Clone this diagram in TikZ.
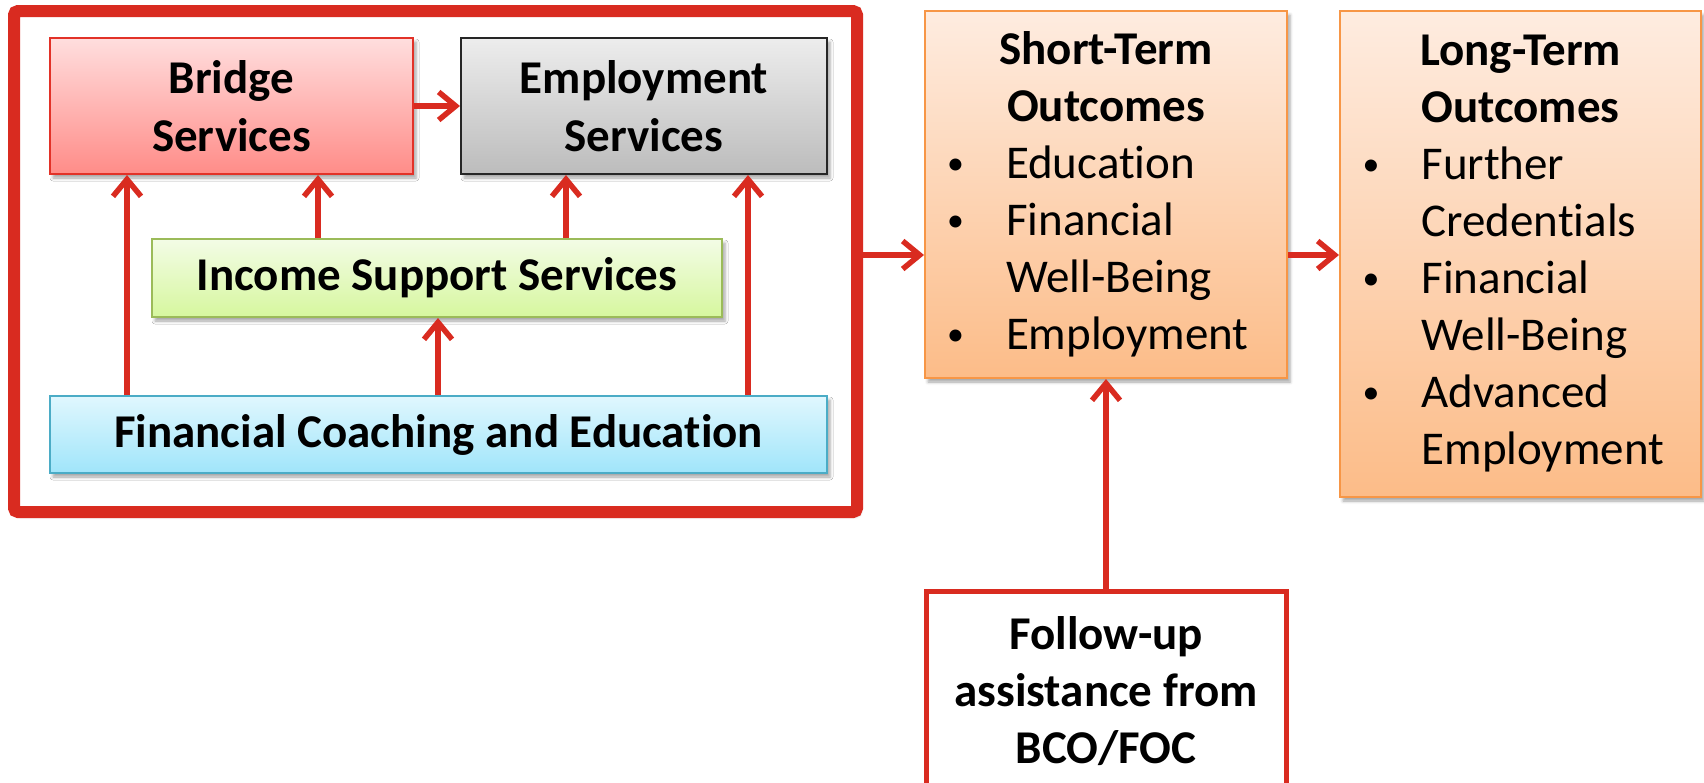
\documentclass[tikz,border=0pt]{standalone}
\usepackage{fontspec}
\usepackage{graphicx}
\setmainfont{Carlito}[Ligatures=NoCommon]
\usetikzlibrary{arrows.meta,shadows.blur}
\definecolor{fred}{RGB}{217,43,32}
\definecolor{brtop}{RGB}{255,222,222}
\definecolor{brbot}{RGB}{255,140,136}
\definecolor{brline}{RGB}{226,50,40}
\definecolor{emtop}{RGB}{237,237,237}
\definecolor{embot}{RGB}{188,188,188}
\definecolor{istop}{RGB}{243,252,230}
\definecolor{isbot}{RGB}{214,247,158}
\definecolor{isline}{RGB}{155,187,89}
\definecolor{fctop}{RGB}{224,247,254}
\definecolor{fcbot}{RGB}{160,229,250}
\definecolor{fcline}{RGB}{75,172,198}
\definecolor{ortop}{RGB}{254,236,224}
\definecolor{orbot}{RGB}{252,188,136}
\definecolor{orline}{RGB}{247,150,70}
\newcommand\outbul[1]{\makebox[56pt][l]{\hspace*{-3pt}\raisebox{4.5pt}{\scalebox{0.72}{\textbullet}}}#1\par}
\newcommand\outcont[1]{\hspace*{56pt}#1\par}
\begin{document}
\begin{tikzpicture}[x=1pt,y=-1pt,
  svc/.style={draw, line width=2pt, inner sep=0pt, align=center,
    font=\fontsize{47}{58}\selectfont\bfseries,
    blur shadow={shadow xshift=3pt, shadow yshift=-4pt, shadow opacity=35, shadow blur radius=3pt}},
  outbox/.style={draw=orline, line width=2pt, inner sep=0pt, align=left,
    top color=ortop, bottom color=orbot,
    font=\fontsize{47}{57}\selectfont,
    blur shadow={shadow xshift=3pt, shadow yshift=-4pt, shadow opacity=35, shadow blur radius=3pt}},
  arr/.style={draw=fred, line width=5.5pt, -{Straight Barb[length=17pt,width=28pt]}}]
\useasboundingbox (0,0) rectangle (1704,782);
\clip (0,0) rectangle (1704,782);

% outer frame
\node[draw=fred, fill=white, line width=12pt, rounded corners=4pt, inner sep=0pt,
  minimum width=843pt, minimum height=501pt,
  blur shadow={shadow xshift=3pt, shadow yshift=-4pt, shadow opacity=35, shadow blur radius=3pt}]
  (frame) at (435.5,261.5) {};

% inner services
\node[svc, draw=brline, top color=brtop, bottom color=brbot,
  minimum width=363pt, minimum height=136pt] (br) at (231.5,106) {Bridge\\Services};
\node[svc, draw=black!85, top color=emtop, bottom color=embot,
  minimum width=366pt, minimum height=136pt] (em) at (644,106) {Employment\\Services};
\node[svc, draw=isline, top color=istop, bottom color=isbot,
  minimum width=570pt, minimum height=78pt] (is) at (437,278) {Income Support Services};
\node[svc, draw=fcline, top color=fctop, bottom color=fcbot,
  minimum width=777pt, minimum height=77pt] (fc) at (438.5,434.5) {Financial Coaching and Education};

% outcomes
\node[outbox, minimum width=362pt, minimum height=367pt, text width=312pt] (st) at (1106,194.5)
  {{\centering\bfseries Short-Term\\Outcomes\par}%
   \outbul{Education}\outbul{Financial}\outcont{Well-Being}\outbul{Employment}};
\node[outbox, minimum width=361pt, minimum height=486pt, text width=310pt] (lt) at (1520.5,254)
  {{\centering\bfseries Long-Term\\Outcomes\par}%
   \outbul{Further}\outcont{Credentials}\outbul{Financial}\outcont{Well-Being}\outbul{Advanced}\outcont{Employment}};

% follow-up
\node[draw=fred, line width=5pt, fill=white, inner sep=0pt, align=center,
  font=\fontsize{47}{57}\selectfont\bfseries,
  minimum width=360pt, minimum height=200pt] (fu) at (1106,691) {Follow-up\\assistance from\\BCO/FOC};

% x / y guides for connectors
\coordinate (xa) at (127,0);
\coordinate (xb) at (318,0);
\coordinate (xc) at (438,0);
\coordinate (xd) at (566,0);
\coordinate (xe) at (748,0);
\coordinate (ya) at (0,255);

% connectors
\draw[arr] (br.east) -- (em.west);
\draw[arr] (fc.north -| xa) -- (br.south -| xa);
\draw[arr] (is.north -| xb) -- (br.south -| xb);
\draw[arr] (fc.north -| xc) -- (is.south -| xc);
\draw[arr] (is.north -| xd) -- (em.south -| xd);
\draw[arr] (fc.north -| xe) -- (em.south -| xe);
\draw[arr] (frame.east |- ya) -- (st.west |- ya);
\draw[arr] (st.east |- ya) -- (lt.west |- ya);
\draw[arr] (fu.north) -- (st.south);
\end{tikzpicture}
\end{document}
